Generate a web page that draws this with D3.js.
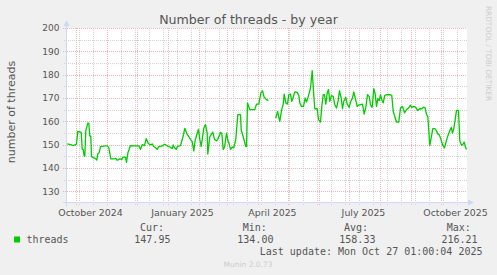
<!DOCTYPE html>
<html>
<head>
<meta charset="utf-8">
<style>
  body { margin: 0; background: #f0f0f0; }
  svg { display: block; }
</style>
</head>
<body>
<script src="https://d3js.org/d3.v7.min.js"></script>
<script>

    // time window of the graph (400 days ending at last update)
    var startDate = new Date(Date.UTC(2024, 8, 22, 1));
    var endDate = new Date(Date.UTC(2025, 9, 27, 1));

    // days after the start of the window
    var days = [
        0.2, 3.5, 6.2, 8.5, 9.5, 10.8, 13.5, 14.2, 15.2, 16.2, 17.2, 17.8, 18.8, 20.8, 21.8,
        22.8, 23.8, 24.5, 26.8, 28.8, 29.8, 30.8, 32.2, 33.5, 38.5, 40.2, 41.8, 43.8, 46.8,
        48.8, 50.2, 52.8, 54.8, 56.2, 58.5, 59.5, 60.8, 62.5, 63.5, 66.8, 71.8, 73.5, 75.2,
        77.5, 79.2, 81.2, 83.2, 85.2, 86.8, 88.5, 90.2, 91.8, 95.2, 97.8, 100.2, 101.8, 103.5,
        105.2, 106.2, 107.5, 109.2, 110.5, 113.5, 116.2, 117.8, 120.2, 121.8, 123.5, 125.2,
        126.8, 128.2, 131.5, 132.8, 134.2, 136.8, 138.5, 140.2, 140.8, 142.8, 145.8, 147.5,
        149.5, 150.8, 153.5, 154.8, 156.2, 157.5, 159.5, 160.8, 162.2, 163.5, 165.2, 166.8,
        168.8, 170.8, 173.5, 174.2, 176.2, 178.8, 179.5, 180.5, 182.8, 187.8, 189.5, 191.8,
        193.8, 195.5, 197.2, 199.5, 201.5, 205, 208.8, 210.5, 212.8, 214.5, 216.2, 217.2,
        218.8, 220.5, 221.8, 223.5, 224.8, 226.2, 227.8, 230.2, 231.8, 232.8, 234.5, 236.5,
        238.2, 239.5, 240.8, 242.2, 243.5, 245.2, 246.5, 247.8, 250.2, 251.5, 253.5, 254.8,
        256.2, 257.5, 258.8, 260.2, 261.5, 262.8, 264.5, 266.2, 267.8, 269.5, 271.2, 272.5,
        274.2, 275.5, 276.8, 278.8, 280.2, 282.2, 283.8, 285.5, 286.8, 288.2, 290.2, 292.2,
        295.5, 297.2, 298.8, 300.5, 302.2, 303.5, 305.2, 306.8, 308.2, 309.5, 310.8, 312.2,
        313.5, 314.8, 316.2, 317.8, 319.5, 322.8, 324.8, 326.2, 327.8, 329.5, 331.8, 333.5,
        335.5, 337.5, 339.5, 341.5, 343.5, 344.8, 346.8, 348.8, 350.8, 352.8, 354.8, 356.8,
        358.2, 359.5, 360.8, 362.8, 364.2, 365.8, 367.8, 369.5, 370.8, 372.2, 373.5, 375.5,
        377.5, 378.8, 380.2, 381.5, 382.8, 384.2, 385.5, 386.8, 388.2, 389.5, 391.5, 392.8,
        394.5, 396.2, 397.2, 398.2, 399.5
    ];

    var threads = [
        150.3, 150.0, 149.6, 150.0, 150.4, 155.7, 155.4, 155.3, 148.0, 148.0, 145.1, 145.1, 156.0, 159.2, 159.2,
        153.7, 153.7, 144.9, 144.4, 143.9, 143.4, 146.0, 146.6, 149.2, 149.5, 149.5, 148.7, 143.9, 143.9,
        144.1, 143.3, 143.9, 143.7, 144.7, 144.7, 142.4, 146.3, 148.5, 149.6, 149.5, 149.5, 148.0, 150.0,
        149.6, 152.6, 150.6, 149.9, 150.3, 149.2, 148.7, 148.0, 149.2, 149.5, 150.2, 149.5, 149.2, 148.9,
        148.3, 149.9, 148.7, 148.0, 149.3, 149.6, 153.7, 157.0, 154.4, 153.4, 152.3, 151.3,
        147.3, 152.0, 156.6, 152.3, 149.2, 157.0, 158.6, 154.9, 146.0, 153.4, 155.4, 152.3,
        151.6, 152.3, 155.3, 154.9, 148.0, 148.9, 154.9, 152.0, 150.3, 148.0, 148.9, 148.7,
        152.3, 162.9, 162.9, 156.3, 153.4, 149.2, 149.3, 167.9, 165.0, 165.0, 167.4, 167.4,
        172.1, 173.1, 170.3, 169.3, 168.9, null, 161.4, 164.3, 160.0, 164.6, 167.4, 171.7,
        167.9, 167.4, 171.4, 171.7, 168.6, 170.3, 172.6, 172.4, 171.1, 167.9, 166.4, 166.4,
        170.0, 168.3, 170.0, 172.1, 174.3, 181.7, 172.9, 165.4, 165.4, 160.7, 159.7, 166.4,
        171.4, 171.4, 167.4, 172.1, 173.6, 168.6, 171.0, 170.7, 167.1, 165.7, 168.9, 173.1,
        170.0, 165.4, 168.6, 170.3, 167.4, 166.0, 168.6, 170.0, 172.6, 170.0, 166.4, 167.1,
        167.4, 163.1, 166.0, 171.4, 170.6, 167.1, 166.0, 174.0, 171.7, 166.4, 169.7, 168.9,
        171.4, 169.3, 167.9, 171.1, 171.4, 171.4, 171.1, 164.3, 162.1, 159.7, 159.7, 165.7,
        166.4, 163.6, 165.0, 165.7, 166.9, 166.0, 166.4, 166.0, 164.6, 165.4, 165.4, 166.1,
        165.7, 162.9, 162.1, 149.7, 152.9, 156.9, 156.9, 156.0, 154.6, 154.3, 152.9, 150.0,
        148.6, 150.7, 152.9, 154.6, 156.0, 157.4, 155.0, 156.9, 160.7, 164.7, 164.7, 151.7,
        149.7, 150.3, 151.1, 149.3, 147.9
    ];

    var yTicks = [130, 140, 150, 160, 170, 180, 190, 200];
    var yMinor = [135, 145, 155, 165, 175, 185, 195];
    var xLabels = ["October 2024", "January 2025", "April 2025", "July 2025", "October 2025"];
    var xLabelMonths = [[2024, 9], [2025, 0], [2025, 3], [2025, 6], [2025, 9]];

    var seriesName = "threads";
    var legendHeads = ["Cur:", "Min:", "Avg:", "Max:"];
    var legendValues = ["147.95", "134.00", "158.33", "216.21"];
    var lastUpdate = "Last update: Mon Oct 27 01:00:04 2025";

    var W = 497, H = 275;
    var plot = { left: 67, right: 467, top: 28, bottom: 203 };
    var txt = "#555555";

    var x = d3.scaleUtc()
        .domain([startDate, endDate])
        .range([plot.left, plot.right]);

    var y = d3.scaleLinear()
        .domain([125, 200])
        .range([plot.bottom, plot.top]);

    var svg = d3.select("body").append("svg")
        .attr("width", W)
        .attr("height", H)
        .style("font-family", "'DejaVu Sans', sans-serif");

    svg.append("rect").attr("width", W).attr("height", H).attr("fill", "#f0f0f0");
    svg.append("rect")
        .attr("x", plot.left).attr("y", plot.top)
        .attr("width", plot.right - plot.left).attr("height", plot.bottom - plot.top)
        .attr("fill", "#ffffff");

    // grid: months (major) and every other week (minor)
    var monthTicks = d3.utcMonth.range(d3.utcMonth.ceil(startDate), endDate);
    var minorTicks = d3.range(0, 30).map(function(i) {
        return d3.utcDay.offset(new Date(Date.UTC(2024, 9, 4)), i * 14);
    }).filter(function(d) { return d < endDate; });

    var grid = svg.append("g").attr("shape-rendering", "crispEdges");
    var minorColor = "#d2d2d2", majorColor = "#f2b4b4";

    grid.selectAll(".vminor").data(minorTicks).enter().append("line")
        .attr("x1", function(d) { return Math.round(x(d)) + 0.5; })
        .attr("x2", function(d) { return Math.round(x(d)) + 0.5; })
        .attr("y1", plot.top).attr("y2", plot.bottom + 2)
        .attr("stroke", minorColor).attr("stroke-dasharray", "1,1");

    grid.selectAll(".hminor").data(yMinor).enter().append("line")
        .attr("x1", plot.left - 3).attr("x2", plot.right)
        .attr("y1", function(d) { return Math.round(y(d)) + 0.5; })
        .attr("y2", function(d) { return Math.round(y(d)) + 0.5; })
        .attr("stroke", minorColor).attr("stroke-dasharray", "1,1");

    grid.selectAll(".vmajor").data(monthTicks).enter().append("line")
        .attr("x1", function(d) { return Math.round(x(d)) + 0.5; })
        .attr("x2", function(d) { return Math.round(x(d)) + 0.5; })
        .attr("y1", plot.top).attr("y2", plot.bottom + 3)
        .attr("stroke", majorColor).attr("stroke-dasharray", "1,1");

    grid.selectAll(".hmajor").data(yTicks).enter().append("line")
        .attr("x1", plot.left - 4).attr("x2", plot.right)
        .attr("y1", function(d) { return Math.round(y(d)) + 0.5; })
        .attr("y2", function(d) { return Math.round(y(d)) + 0.5; })
        .attr("stroke", majorColor).attr("stroke-dasharray", "1,1");

    // data line
    var points = days.map(function(d, i) {
        return { date: new Date(+startDate + d * 864e5), value: threads[i] };
    });

    var line = d3.line()
        .defined(function(d) { return d.value != null; })
        .x(function(d) { return x(d.date); })
        .y(function(d) { return y(d.value); });

    svg.append("path")
        .datum(points)
        .attr("d", line)
        .attr("fill", "none")
        .attr("stroke", "#00cc00")
        .attr("stroke-width", 1.3)
        .attr("stroke-linejoin", "round");

    // axes lines and arrows
    var axisColor = "#cfd6f8";
    svg.append("line")
        .attr("x1", plot.left - 0.5).attr("x2", plot.left - 0.5)
        .attr("y1", plot.bottom + 3).attr("y2", plot.top - 5)
        .attr("stroke", axisColor);
    svg.append("line")
        .attr("x1", plot.left - 4).attr("x2", plot.right + 3)
        .attr("y1", plot.bottom - 0.5).attr("y2", plot.bottom - 0.5)
        .attr("stroke", axisColor);
    svg.append("path")
        .attr("d", "M" + (plot.left - 3.5) + "," + (plot.top - 2) + "L" + (plot.left - 0.5) + "," + (plot.top - 8) +
                   "L" + (plot.left + 2.5) + "," + (plot.top - 2) + "Z")
        .attr("fill", axisColor);
    svg.append("path")
        .attr("d", "M" + (plot.right + 1) + "," + (plot.bottom - 3.5) + "L" + (plot.right + 7) + "," + (plot.bottom - 0.5) +
                   "L" + (plot.right + 1) + "," + (plot.bottom + 2.5) + "Z")
        .attr("fill", axisColor);

    // tick labels
    var gy = svg.append("g")
        .attr("transform", "translate(" + (plot.left - 0.5) + ",0)")
        .call(d3.axisLeft(y).tickValues(yTicks).tickSize(0).tickPadding(7));
    gy.select(".domain").remove();
    gy.selectAll("text").attr("fill", txt).style("font-size", "9px")
        .style("font-family", "'DejaVu Sans', sans-serif");

    var labelDates = xLabelMonths.map(function(m) { return new Date(Date.UTC(m[0], m[1], 15)); });
    var gx = svg.append("g")
        .attr("transform", "translate(0," + plot.bottom + ")")
        .call(d3.axisBottom(x).tickValues(labelDates).tickSize(0).tickPadding(6)
            .tickFormat(function(d, i) { return xLabels[i]; }));
    gx.select(".domain").remove();
    gx.selectAll("text").attr("fill", txt).style("font-size", "9.4px")
        .style("font-family", "'DejaVu Sans', sans-serif");

    // titles
    svg.append("text")
        .attr("x", 248.5).attr("y", 23.5)
        .attr("text-anchor", "middle")
        .attr("fill", txt)
        .style("font-size", "12.6px")
        .text("Number of threads - by year");

    svg.append("text")
        .attr("transform", "translate(15,112) rotate(-90)")
        .attr("text-anchor", "middle")
        .attr("fill", txt)
        .style("font-size", "11px")
        .text("number of threads");

    svg.append("text")
        .attr("transform", "translate(485.5,53.5) rotate(90)")
        .attr("text-anchor", "middle")
        .attr("fill", "#cccccc")
        .style("font-size", "7.4px")
        .text("RRDTOOL / TOBI OETIKER");

    // legend
    var mono = "'DejaVu Sans Mono', monospace";
    svg.append("rect")
        .attr("x", 14).attr("y", 236.5).attr("width", 6).attr("height", 6)
        .attr("fill", "#00cc00");
    svg.append("text")
        .attr("x", 26.5).attr("y", 242.5)
        .attr("fill", txt).style("font-family", mono).style("font-size", "10px")
        .text(seriesName);

    var colX = [140, 242.7, 344, 446.7];
    var valX = [134.3, 237.3, 339.3, 441.5];
    svg.selectAll(".lhead").data(legendHeads).enter().append("text")
        .attr("x", function(d, i) { return colX[i]; }).attr("y", 230.5)
        .attr("fill", txt).style("font-family", mono).style("font-size", "10px")
        .text(function(d) { return d; });
    svg.selectAll(".lval").data(legendValues).enter().append("text")
        .attr("x", function(d, i) { return valX[i]; }).attr("y", 242.5)
        .attr("fill", txt).style("font-family", mono).style("font-size", "10px")
        .text(function(d) { return d; });

    svg.append("text")
        .attr("x", 482.5).attr("y", 254.5)
        .attr("text-anchor", "end")
        .attr("fill", txt).style("font-family", mono).style("font-size", "10px")
        .text(lastUpdate);

    svg.append("text")
        .attr("x", 248).attr("y", 266.5)
        .attr("text-anchor", "middle")
        .attr("fill", "#cccccc")
        .style("font-size", "7.5px")
        .text("Munin 2.0.73");

</script>
</body>
</html>
